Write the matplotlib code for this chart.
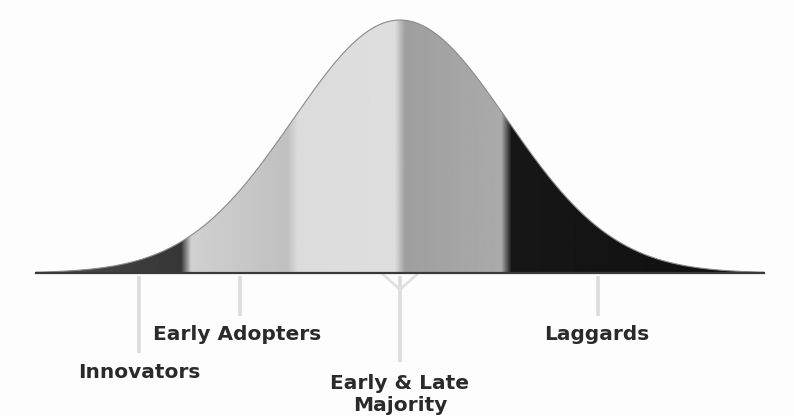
import numpy as np
import matplotlib
matplotlib.use("Agg")
import matplotlib.pyplot as plt

# segment edges in standard deviations around the mean
seg_edges = [-3.4, -2.0, -1.0, 0.0, 1.0, 3.4]
# grey level at the left and right side of each segment
seg_grey_left = [0.30, 0.82, 0.86, 0.62, 0.09]
seg_grey_right = [0.21, 0.75, 0.87, 0.67, 0.06]

labels = ["Innovators", "Early Adopters", "Early & Late\nMajority", "Laggards"]
label_x = [-2.44, -1.52, 0.0, 1.84]
label_y = [-0.395, -0.245, -0.48, -0.245]
tick_x = [-2.44, -1.50, 0.0, 1.85]
tick_bottom = [-0.315, -0.17, -0.35, -0.17]

fig = plt.figure(figsize=(7.94, 4.16), dpi=100)
ax = fig.add_axes([0, 0, 1, 1])
ax.set_xlim(-400 / 107, 394 / 107)
ax.set_ylim(-143 / 253, 273 / 253)
ax.axis("off")
fig.patch.set_facecolor("#fdfdfd")

# bell curve, peak scaled to 1
x = np.linspace(seg_edges[0], seg_edges[-1], 800)
y = np.exp(-x ** 2 / 2)

# horizontal grey profile across the segments, softened at the joins
grey = np.zeros_like(x)
for i in range(len(seg_edges) - 1):
    a, b = seg_edges[i], seg_edges[i + 1]
    m = (x >= a) & (x <= b)
    t = (x[m] - a) / (b - a)
    grey[m] = seg_grey_left[i] + (seg_grey_right[i] - seg_grey_left[i]) * t
k = np.ones(11) / 11
grey = np.convolve(np.pad(grey, 5, mode="edge"), k, mode="valid")

img = ax.imshow(np.tile(grey, (2, 1)), cmap="gray", vmin=0, vmax=1,
                extent=[x[0], x[-1], 0, 1.0], aspect="auto",
                interpolation="bilinear", zorder=1)
clip = ax.fill(np.r_[x, x[::-1]], np.r_[y, np.zeros_like(y)],
               facecolor="none", edgecolor="none")[0]
img.set_clip_path(clip)

# outline and baseline
ax.plot(x, y, color="#8a8a8a", lw=0.8, zorder=2)
ax.plot([x[0], x[-1]], [0, 0], color="#3a3a3a", lw=1.6, zorder=2)

# pointer lines under the curve
for tx, tb in zip(tick_x, tick_bottom):
    ax.plot([tx, tx], [-0.01, tb], color="#dcdcdc", lw=2.6,
            solid_capstyle="butt", zorder=1)
ax.plot([-0.16, 0, 0.16], [-0.005, -0.065, -0.005], color="#e0e0e0",
        lw=2.0, zorder=1)

for lab, lx, ly in zip(labels, label_x, label_y):
    ax.text(lx, ly, lab, ha="center", va="center", fontsize=14.5,
            fontweight="bold", family="DejaVu Sans", color="#2a2a2a",
            linespacing=1.15)

fig.savefig("out.png", dpi=100)
